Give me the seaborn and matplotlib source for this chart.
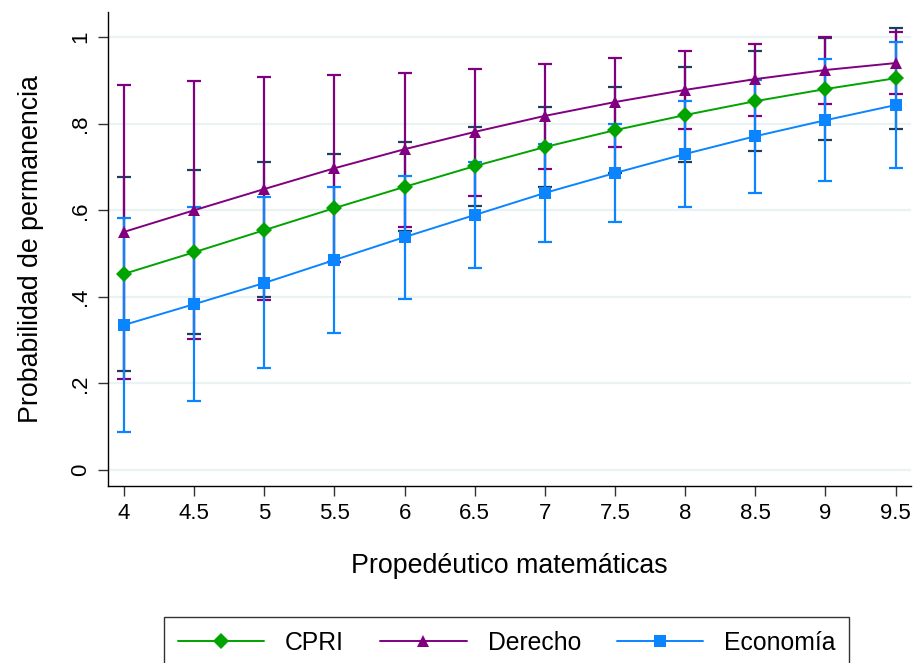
import numpy as np
import pandas as pd
import matplotlib
matplotlib.use("Agg")
import matplotlib.pyplot as plt
import seaborn as sns
from matplotlib.lines import Line2D

x_vals = [4, 4.5, 5, 5.5, 6, 6.5, 7, 7.5, 8, 8.5, 9, 9.5]
series_names = ["CPRI", "Derecho", "Economía"]

cpri = [0.453, 0.503, 0.554, 0.605, 0.654, 0.702, 0.746, 0.785, 0.820, 0.852, 0.880, 0.905]
cpri_lo = [0.229, 0.314, 0.400, 0.480, 0.552, 0.610, 0.654, 0.685, 0.711, 0.737, 0.762, 0.787]
cpri_hi = [0.676, 0.693, 0.711, 0.731, 0.757, 0.793, 0.838, 0.885, 0.930, 0.968, 0.998, 1.022]

derecho = [0.550, 0.600, 0.649, 0.697, 0.741, 0.781, 0.818, 0.850, 0.878, 0.903, 0.924, 0.940]
derecho_lo = [0.210, 0.302, 0.393, 0.480, 0.561, 0.633, 0.695, 0.746, 0.787, 0.818, 0.845, 0.868]
derecho_hi = [0.889, 0.898, 0.908, 0.912, 0.917, 0.926, 0.938, 0.951, 0.968, 0.984, 1.000, 1.011]

economia = [0.335, 0.383, 0.432, 0.485, 0.538, 0.589, 0.640, 0.686, 0.730, 0.771, 0.808, 0.843]
economia_lo = [0.088, 0.159, 0.236, 0.316, 0.395, 0.467, 0.527, 0.573, 0.608, 0.639, 0.667, 0.697]
economia_hi = [0.582, 0.607, 0.631, 0.654, 0.679, 0.711, 0.752, 0.799, 0.852, 0.902, 0.949, 0.988]

x_ticks = [4, 4.5, 5, 5.5, 6, 6.5, 7, 7.5, 8, 8.5, 9, 9.5]
x_tick_labels = ["4", "4.5", "5", "5.5", "6", "6.5", "7", "7.5", "8", "8.5", "9", "9.5"]
y_ticks = [0, 0.2, 0.4, 0.6, 0.8, 1.0]
y_tick_labels = ["0", ".2", ".4", ".6", ".8", "1"]

line_colors = {"CPRI": "#00a300", "Derecho": "#800080", "Economía": "#0a84ff"}
ci_colors = {"CPRI": "#1f3d5c", "Derecho": "#800080", "Economía": "#0a84ff"}
markers = {"CPRI": "D", "Derecho": "^", "Economía": "s"}

sns.set_theme(style="white")
plt.rcParams["font.family"] = ["Liberation Sans", "DejaVu Sans"]
plt.rcParams["text.color"] = "black"
plt.rcParams["axes.labelcolor"] = "black"
plt.rcParams["xtick.color"] = "black"
plt.rcParams["ytick.color"] = "black"

df = pd.DataFrame({
    "x": x_vals * 3,
    "y": cpri + derecho + economia,
    "serie": [series_names[0]] * 12 + [series_names[1]] * 12 + [series_names[2]] * 12,
})
ci = {"CPRI": (cpri, cpri_lo, cpri_hi),
      "Derecho": (derecho, derecho_lo, derecho_hi),
      "Economía": (economia, economia_lo, economia_hi)}

fig = plt.figure(figsize=(9.18, 6.63), dpi=100)
ax = fig.add_axes([108/918, 1-486/663, (911-108)/918, (486-12)/663])

for yt in y_ticks:
    ax.axhline(yt, color="#eaf2f3", lw=1.6, zorder=0)

for name in series_names:
    m, lo, hi = ci[name]
    m = np.array(m); lo = np.array(lo); hi = np.array(hi)
    ax.errorbar(x_vals, m, yerr=[m - lo, hi - m], fmt="none",
                ecolor=ci_colors[name], elinewidth=1.6, capsize=5, capthick=1.6, zorder=2)

sns.lineplot(data=df, x="x", y="y", hue="serie", style="serie",
             palette=line_colors, markers=markers, dashes=False,
             markersize=8.5, markeredgewidth=0, linewidth=1.4, ax=ax, legend=False, zorder=3)

ax.set_xlim(3.886, 9.61)
ax.set_ylim(-0.037, 1.058)
ax.set_xticks(x_ticks)
ax.set_xticklabels(x_tick_labels, fontsize=16, color="black")
ax.set_yticks(y_ticks)
ax.set_yticklabels(y_tick_labels, fontsize=16, rotation=90, va="center", color="black")
ax.tick_params(axis="both", direction="out", length=7, width=1, color="#333333", pad=5,
               bottom=True, left=True)
for s in ["top", "right"]:
    ax.spines[s].set_visible(False)
for s in ["left", "bottom"]:
    ax.spines[s].set_color("black")
    ax.spines[s].set_linewidth(1)
ax.set_xlabel("Propedéutico matemáticas", fontsize=19.3, labelpad=21, color="black")
ax.set_ylabel("Probabilidad de permanencia", fontsize=19.3, labelpad=19, color="black")

handles = [Line2D([0], [0], color=line_colors[n], marker=markers[n], markersize=8,
                  markeredgewidth=0, lw=1.4) for n in series_names]
leg = fig.legend(handles, series_names, loc="upper center", bbox_to_anchor=(0.552, 1 - 617/663),
                 ncol=3, fontsize=17.8, frameon=True, fancybox=False, edgecolor="black",
                 handlelength=3.5, columnspacing=1.45, borderpad=0.55, handletextpad=0.85,
                 borderaxespad=0)
leg.get_frame().set_linewidth(1)
for t in leg.get_texts():
    t.set_color("black")

fig.savefig("out.png", dpi=100)
